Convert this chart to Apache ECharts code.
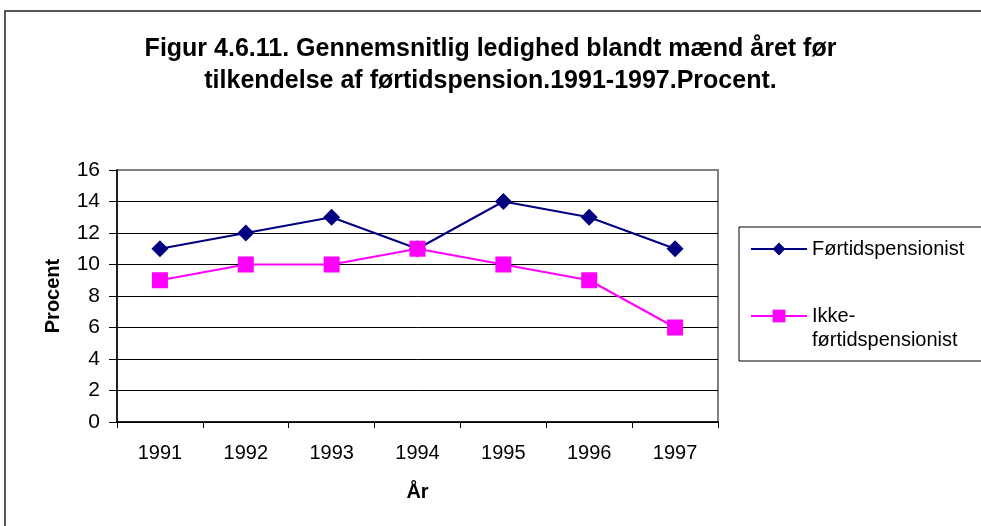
<!DOCTYPE html>
<html>
<head>
<meta charset="utf-8">
<script src="https://cdn.jsdelivr.net/npm/echarts@6/dist/echarts.min.js"></script>
<style>
  html, body { margin: 0; padding: 0; background: #fff; }
  #chart { width: 981px; height: 526px; }
</style>
</head>
<body>
<div id="chart"></div>
<script>
const years = ['1991', '1992', '1993', '1994', '1995', '1996', '1997']
const fortidspensionist = [11, 12, 13, 11, 14, 13, 11]
const ikkeFortidspensionist = [9, 10, 10, 11, 10, 9, 6]
const yTicks = { min: 0, max: 16, interval: 2 }

const font = 'Liberation Sans, Arial, sans-serif'

let chart = echarts.init(document.getElementById('chart'))
chart.setOption({
  animation: false,
  backgroundColor: '#fff',
  textStyle: { fontFamily: font },
  title: {
    text: 'Figur 4.6.11. Gennemsnitlig ledighed blandt mænd året før\ntilkendelse af førtidspension.1991-1997.Procent.',
    left: 'center',
    top: 33,
    padding: 0,
    textStyle: { fontFamily: font, fontSize: 25, fontWeight: 'bold', color: '#000', lineHeight: 32 }
  },
  graphic: [
    // outer frame
    { type: 'rect', shape: { x: 5, y: 11, width: 1000, height: 540 }, style: { fill: null, stroke: '#222', lineWidth: 1.5 }, silent: true },
    // legend box
    { type: 'rect', shape: { x: 739, y: 227, width: 260, height: 134 }, style: { fill: null, stroke: '#000', lineWidth: 1 }, silent: true }
  ],
  legend: [
    {
      left: 750, top: 237, padding: 0,
      itemWidth: 56, itemHeight: 16, itemGap: 0,
      data: ['Førtidspensionist'],
      textStyle: { fontFamily: font, fontSize: 20, color: '#000', lineHeight: 24 }
    },
    {
      left: 750, top: 280, padding: 0,
      itemWidth: 56, itemHeight: 16, itemGap: 0,
      data: ['Ikke-førtidspensionist'],
      // empty first line keeps "Ikke-" level with the marker
      formatter: () => ' \nIkke-\nførtidspensionist',
      textStyle: { fontFamily: font, fontSize: 20, color: '#000', lineHeight: 24 }
    }
  ],
  grid: {
    left: 117, right: 263, top: 170, bottom: 104,
    show: true, borderColor: '#808080', borderWidth: 2, backgroundColor: '#fff'
  },
  xAxis: {
    type: 'category',
    data: years,
    boundaryGap: true,
    name: 'År',
    nameLocation: 'middle',
    nameGap: 60,
    nameTextStyle: { fontFamily: font, fontSize: 20, fontWeight: 'bold', color: '#000' },
    axisLine: { lineStyle: { color: '#000', width: 1.5 } },
    axisTick: { show: true, length: 6, lineStyle: { color: '#000' } },
    axisLabel: { margin: 21, fontFamily: font, fontSize: 20, color: '#000' },
    splitLine: { show: false }
  },
  yAxis: {
    type: 'value',
    min: yTicks.min, max: yTicks.max, interval: yTicks.interval,
    name: 'Procent',
    nameLocation: 'middle',
    nameRotate: 90,
    nameGap: 54,
    nameTextStyle: { fontFamily: font, fontSize: 20, fontWeight: 'bold', color: '#000' },
    axisLine: { show: true, lineStyle: { color: '#000', width: 1.5 } },
    axisTick: { show: true, length: 8, lineStyle: { color: '#000' } },
    axisLabel: { margin: 17, fontFamily: font, fontSize: 21, color: '#000' },
    splitLine: { show: true, showMaxLine: false, lineStyle: { color: '#000', width: 1 } }
  },
  series: [
    {
      name: 'Førtidspensionist',
      type: 'line',
      data: fortidspensionist,
      symbol: 'diamond',
      symbolSize: 17,
      color: '#000080',
      lineStyle: { width: 2, color: '#000080' },
      itemStyle: { color: '#000080' }
    },
    {
      name: 'Ikke-førtidspensionist',
      type: 'line',
      data: ikkeFortidspensionist,
      symbol: 'rect',
      symbolSize: 16,
      color: '#ff00ff',
      lineStyle: { width: 2, color: '#ff00ff' },
      itemStyle: { color: '#ff00ff' }
    }
  ]
})
</script>
</body>
</html>
